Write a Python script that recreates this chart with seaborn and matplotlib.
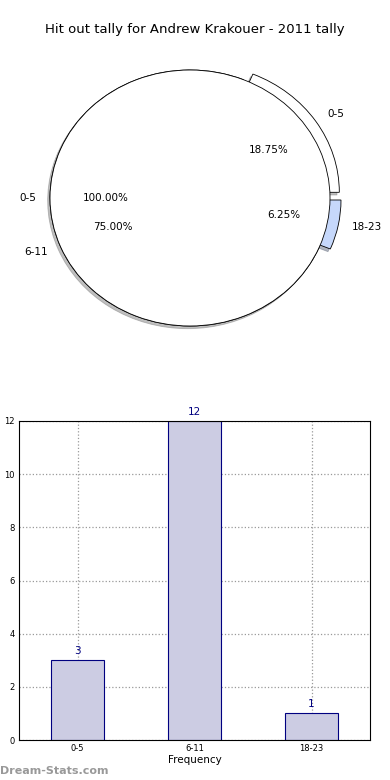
import matplotlib
matplotlib.use("Agg")
import matplotlib.pyplot as plt
import seaborn as sns

# Data
categories = ["0-5", "6-11", "18-23"]
counts = [3, 12, 1]
total_label = ["0-5"]
total_count = [16]

sns.set_style("white")
plt.rcParams['font.family'] = ['DejaVu Sans']
plt.rcParams['text.color'] = 'black'
plt.rcParams['axes.labelcolor'] = 'black'
plt.rcParams['xtick.color'] = 'black'
plt.rcParams['ytick.color'] = 'black'

fig = plt.figure(figsize=(3.9, 7.8), dpi=100)

# Pie chart (two overlapping pies, as in the original)
ax1 = fig.add_axes([15 / 390, 1 - 358 / 780, 350 / 390, 320 / 780])
ax1.pie(counts, labels=categories, autopct="%.2f%%",
        colors=["white", "white", "#c6d8fb"], explode=[0.08, 0, 0.08],
        shadow={"ox": -0.012, "oy": -0.015, "shade": 0.5},
        wedgeprops={"edgecolor": "black", "linewidth": 0.6},
        textprops={"fontsize": 7.5})
ax1.pie(total_count, labels=total_label, autopct="%.2f%%", colors=["white"],
        wedgeprops={"edgecolor": "black", "linewidth": 0.6},
        textprops={"fontsize": 7.5})
ax1.set_aspect("auto")
ax1.set_xlim(-1.25, 1.25)
ax1.set_ylim(-1.25, 1.25)
fig.text(0.5, 1 - 30 / 780, "Hit out tally for Andrew Krakouer - 2011 tally",
         ha="center", va="center", fontsize=9.5)

# Bar chart
ax2 = fig.add_axes([19 / 390, 1 - 740 / 780, 351 / 390, 319 / 780])
sns.barplot(x=categories, y=counts, ax=ax2, color="#ccccE3", saturation=1,
            edgecolor="navy", linewidth=0.8, width=0.45, zorder=2)
ax2.set_xlim(-0.5, 2.5)
ax2.set_ylim(0, 12)
ax2.set_yticks(range(0, 13, 2))
ax2.grid(True, linestyle=":", color="#999999", linewidth=0.9, zorder=0)
ax2.set_axisbelow(True)
for i, v in enumerate(counts):
    ax2.text(i, v + 0.15, str(v), ha="center", va="bottom", color="navy", fontsize=7.5)
ax2.tick_params(axis="both", labelsize=6, direction="in", length=3, pad=3)
for s in ax2.spines.values():
    s.set_color("black")
    s.set_linewidth(0.8)
ax2.set_xlabel("Frequency", fontsize=7.5, labelpad=1)
ax2.set_ylabel("Stat Hit Outs", fontsize=7.5, labelpad=2)

fig.text(0.0, 1 - 771 / 780, "Dream-Stats.com", ha="left", va="center",
         fontsize=8, color="#999999", fontweight="bold")

fig.savefig("out.png", dpi=100)
